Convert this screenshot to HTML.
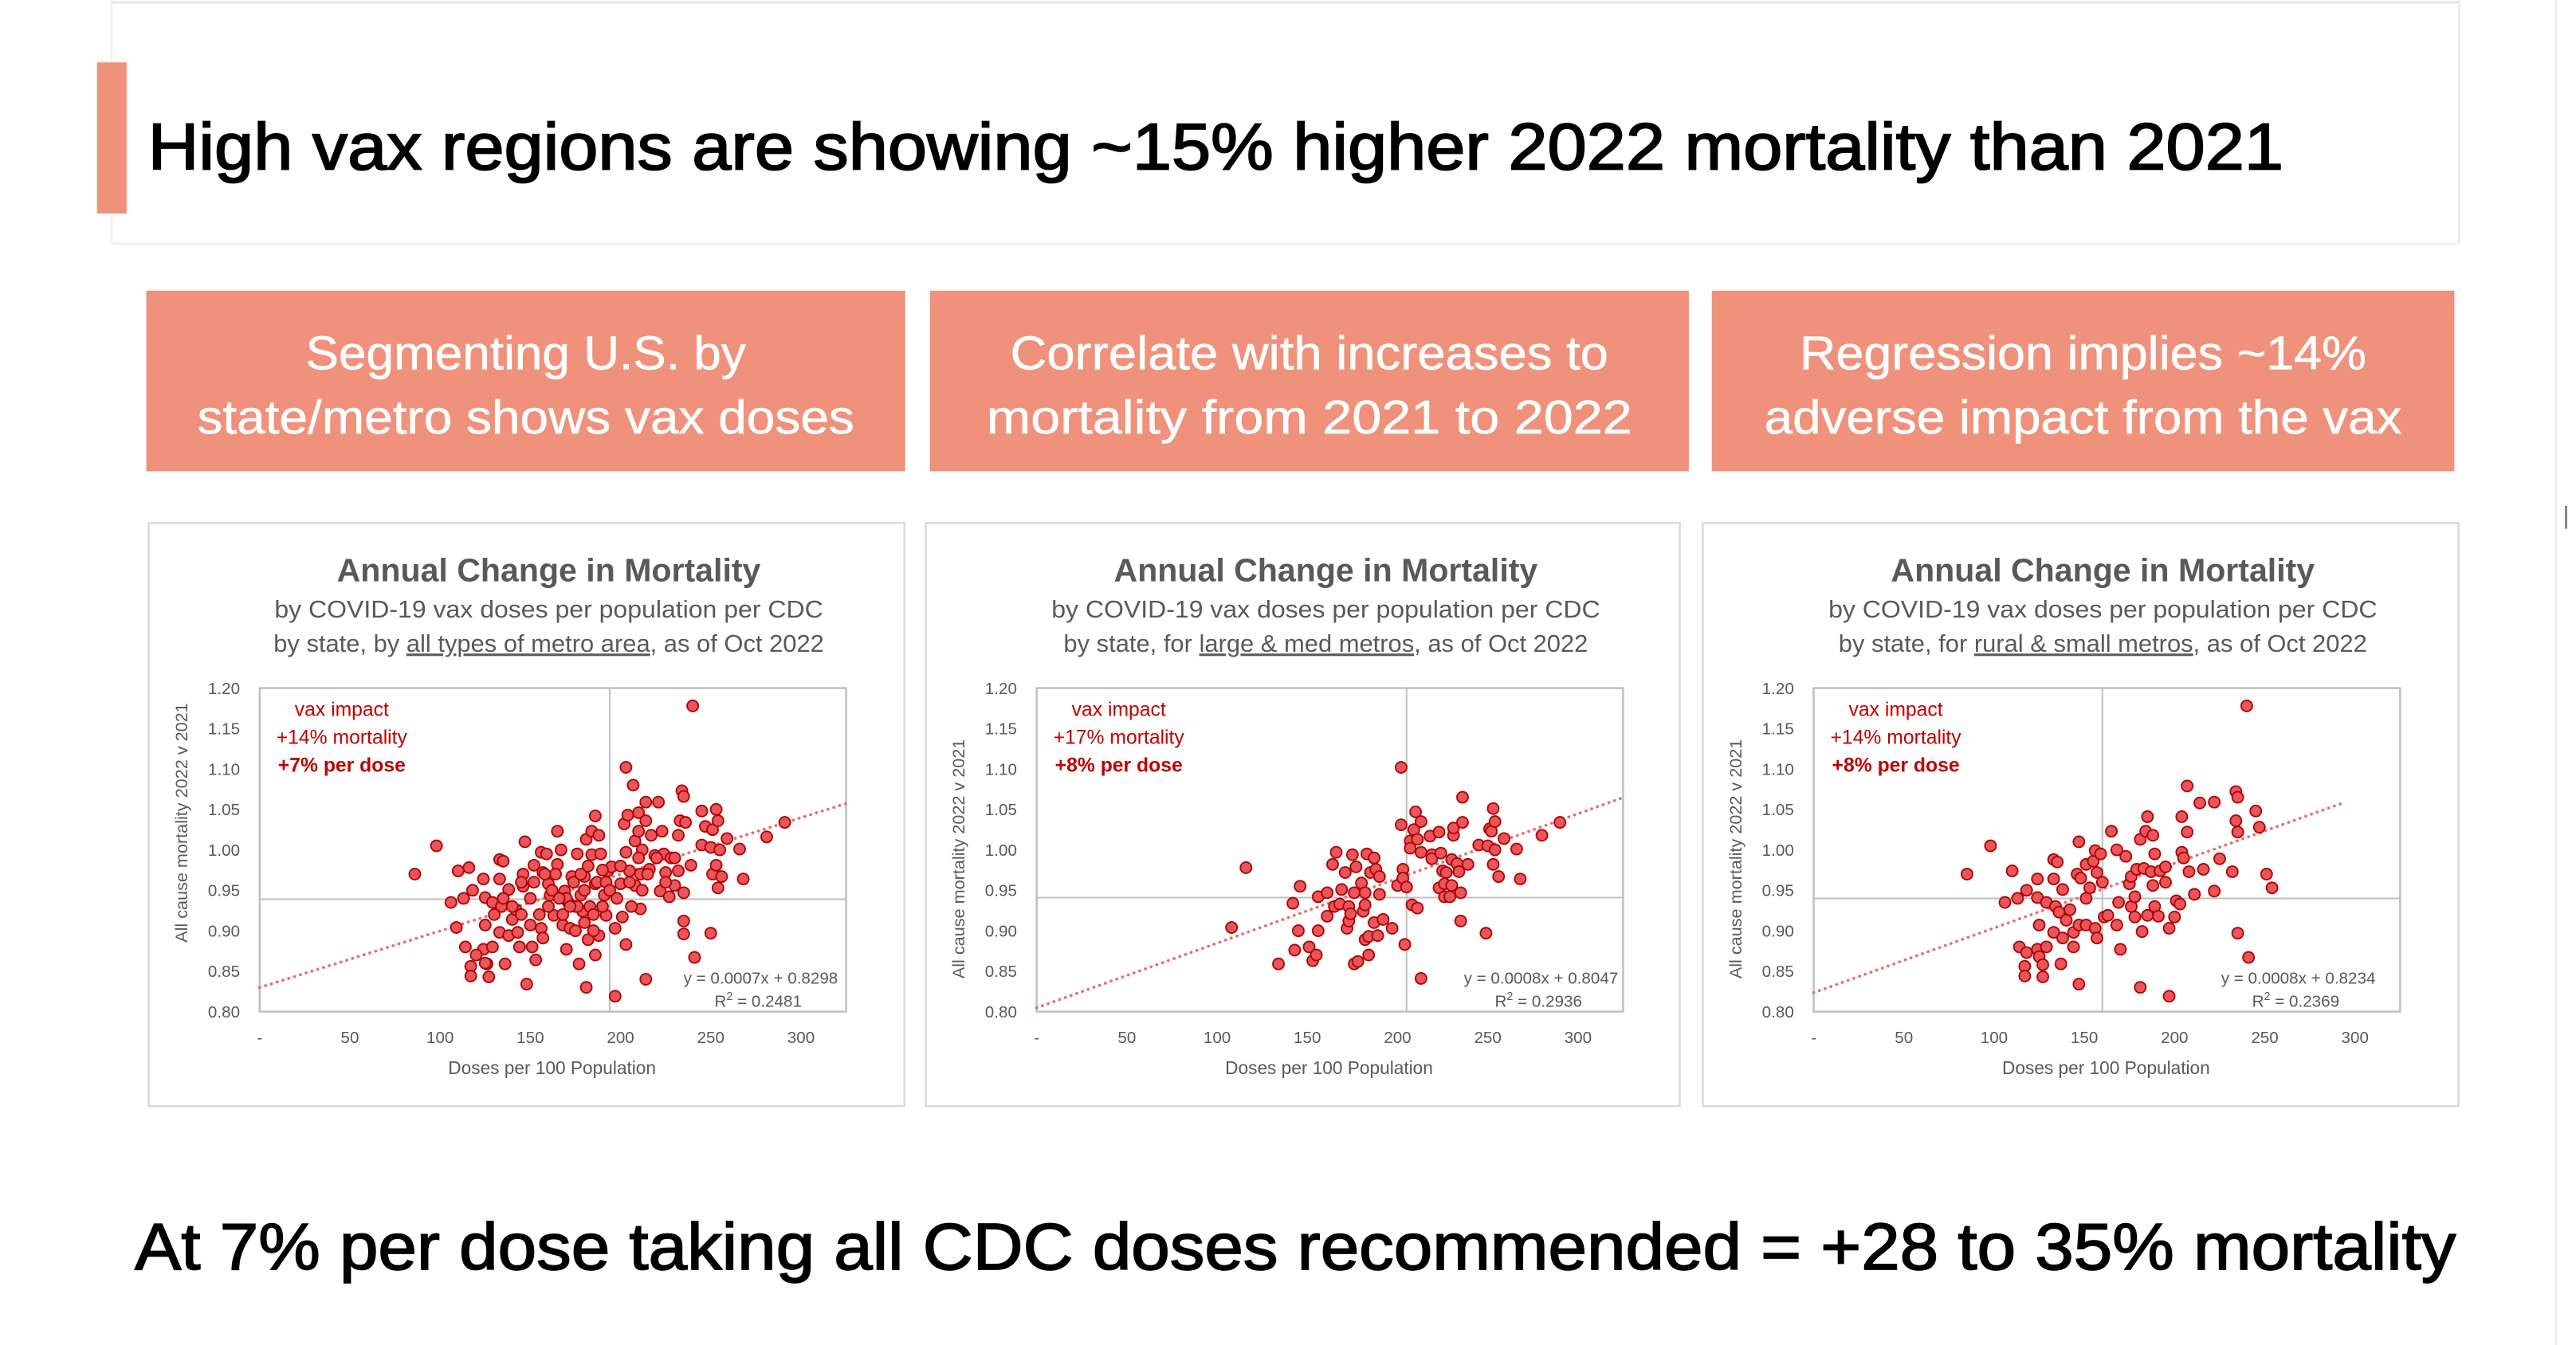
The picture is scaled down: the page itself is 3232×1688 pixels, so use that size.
<!DOCTYPE html>
<html><head><meta charset="utf-8">
<style>
html,body{margin:0;padding:0;background:#fff;}
svg{display:block;}
text{font-family:"Liberation Sans",sans-serif;}
</style></head>
<body>
<svg id="page" width="3232" height="1688" viewBox="0 0 1568 819" xmlns="http://www.w3.org/2000/svg">
  <rect x="0" y="0" width="1568" height="819" fill="#fff"/>
  <g>
    <line x1="68" y1="1.5" x2="1497" y2="1.5" stroke="#e3e3e3" stroke-width="1.5"/>
    <line x1="68" y1="0" x2="68" y2="148" stroke="#eeeeee" stroke-width="1"/>
    <line x1="1497" y1="0" x2="1497" y2="148" stroke="#ececec" stroke-width="1.5"/>
    <line x1="68" y1="148.5" x2="1497" y2="148.5" stroke="#f0f0f0" stroke-width="1.5"/>
    <rect x="59" y="38" width="18" height="92" fill="#ef917b"/>
    <text x="90" y="103" font-size="40" fill="#000" stroke="#000" stroke-width="0.9" textLength="1300" lengthAdjust="spacingAndGlyphs">High vax regions are showing ~15% higher 2022 mortality than 2021</text>
  </g>
  <line x1="1556" y1="0" x2="1556" y2="819" stroke="#e8e8e8" stroke-width="1"/>
  <line x1="1562" y1="308" x2="1562" y2="322" stroke="#888" stroke-width="1.5"/>

  <g>
    <rect x="89" y="177" width="462" height="110" fill="#ef917b"/>
    <text x="320" y="225" font-size="29" fill="#fff" stroke="#fff" stroke-width="0.3" text-anchor="middle" textLength="268" lengthAdjust="spacingAndGlyphs">Segmenting U.S. by</text>
    <text x="320" y="264" font-size="29" fill="#fff" stroke="#fff" stroke-width="0.3" text-anchor="middle" textLength="400" lengthAdjust="spacingAndGlyphs">state/metro shows vax doses</text>
  </g>
  <g>
    <rect x="566" y="177" width="462" height="110" fill="#ef917b"/>
    <text x="797" y="225" font-size="29" fill="#fff" stroke="#fff" stroke-width="0.3" text-anchor="middle" textLength="364" lengthAdjust="spacingAndGlyphs">Correlate with increases to</text>
    <text x="797" y="264" font-size="29" fill="#fff" stroke="#fff" stroke-width="0.3" text-anchor="middle" textLength="393" lengthAdjust="spacingAndGlyphs">mortality from 2021 to 2022</text>
  </g>
  <g>
    <rect x="1042" y="177" width="452" height="110" fill="#ef917b"/>
    <text x="1268" y="225" font-size="29" fill="#fff" stroke="#fff" stroke-width="0.3" text-anchor="middle" textLength="345" lengthAdjust="spacingAndGlyphs">Regression implies ~14%</text>
    <text x="1268" y="264" font-size="29" fill="#fff" stroke="#fff" stroke-width="0.3" text-anchor="middle" textLength="388" lengthAdjust="spacingAndGlyphs">adverse impact from the vax</text>
  </g>

  <g id="charts"></g>

  <text x="82" y="773" font-size="40" fill="#000" stroke="#000" stroke-width="0.8" textLength="1413" lengthAdjust="spacingAndGlyphs">At 7% per dose taking all CDC doses recommended = +28 to 35% mortality</text>
</svg>
<script>
// ---- Chart data ----
const xTicks = [0, 50, 100, 150, 200, 250, 300];
const xTickLabels = ["-", "50", "100", "150", "200", "250", "300"];
const yTicks = [0.80, 0.85, 0.90, 0.95, 1.00, 1.05, 1.10, 1.15, 1.20];
const yTickLabels = ["0.80", "0.85", "0.90", "0.95", "1.00", "1.05", "1.10", "1.15", "1.20"];

const chart1Doses = [86,98,106,109,110,113,116,114,117,117,118,124,125,125,124,127,126,129,133,135,133,129,134,133,136,138,138,140,142,143,144,146,147,148,146,150,151,152,153,156,157,156,157,159,160,161,163,165,165,167,168,169,170,171,172,173,175,176,177,178,179,180,181,181,182,183,184,184,186,186,186,188,188,189,191,192,193,195,197,197,200,201,202,203,203,203,204,205,207,208,208,210,210,211,211,212,214,214,214,216,217,219,221,222,223,224,225,227,228,230,232,232,233,234,235,235,235,235,236,239,240,241,245,245,247,250,250,251,251,253,253,254,254,255,256,259,266,268,281,291,170,174,176,178,180,182,185,187,190,192,194,160,162,164,166,168,172,150,152,155,158,145,140,200,205,210,215,220,225,230,198,206,212,145,135,130,120,125,175,180,185,190];
const chart1Mortality = [0.970,1.005,0.935,0.904,0.974,0.940,0.978,0.880,0.856,0.844,0.950,0.964,0.941,0.907,0.877,0.843,0.859,0.880,0.988,0.986,0.964,0.935,0.930,0.898,0.859,0.894,0.951,0.914,0.926,0.898,0.880,0.970,1.010,0.834,0.955,0.907,0.880,0.981,0.864,0.997,0.972,0.903,0.891,0.995,0.958,0.944,0.919,1.023,0.982,1.000,0.907,0.949,0.877,0.935,0.903,0.967,0.930,0.995,0.859,0.944,0.924,0.967,0.830,1.013,0.889,0.930,0.994,1.023,1.042,0.870,0.958,0.894,1.018,0.995,0.944,0.919,0.974,0.979,0.903,0.819,0.958,0.917,1.032,1.102,0.997,0.883,1.043,0.974,1.080,1.011,0.956,1.023,1.046,0.927,0.970,1.000,0.840,1.036,1.059,0.976,1.018,0.993,1.059,0.949,1.023,0.995,0.972,0.942,0.990,0.956,0.974,1.018,1.036,1.073,0.912,0.896,0.947,1.066,1.034,0.981,1.178,0.867,1.048,1.006,1.029,0.897,1.003,1.025,0.970,0.981,1.050,1.036,0.953,1.000,0.967,1.014,1.001,0.964,1.016,1.034,0.940,0.960,0.930,0.970,0.950,0.980,0.920,0.960,0.975,0.960,0.950,0.930,0.950,0.970,0.940,0.920,0.930,0.940,0.960,0.920,0.970,0.920,0.930,0.980,0.960,0.990,0.970,0.990,0.960,0.990,0.940,0.930,0.950,0.960,0.940,0.920,0.870,0.860,0.900,0.910,0.900,0.930];

const chart2Doses = [116,108,134,142,143,145,146,151,153,155,156,156,161,161,164,166,165,168,169,171,172,173,173,174,175,176,176,177,178,180,181,182,182,182,183,184,184,185,187,187,188,189,190,190,192,197,200,202,202,203,203,204,205,207,207,208,209,210,211,211,213,213,213,218,219,219,223,223,224,225,226,226,227,229,230,230,231,231,233,234,235,235,236,236,239,245,249,250,251,252,253,253,254,254,256,259,266,268,280,290];
const chart2Mortality = [0.978,0.904,0.859,0.934,0.876,0.900,0.955,0.880,0.863,0.870,0.942,0.900,0.947,0.918,0.982,0.997,0.930,0.933,0.951,0.972,0.903,0.930,0.912,0.921,0.994,0.947,0.859,0.979,0.862,0.959,0.924,0.889,0.947,0.932,0.995,0.893,0.870,0.972,0.910,0.990,0.976,0.894,0.967,0.945,0.914,0.903,0.956,1.102,1.031,0.976,0.965,0.883,0.954,1.011,1.002,0.932,1.025,1.047,1.013,0.928,0.997,1.035,0.841,1.017,0.994,0.989,1.022,0.953,0.996,0.974,0.958,0.942,0.972,0.942,0.988,0.956,1.018,1.027,0.983,0.973,0.912,0.947,1.065,1.034,0.982,1.006,0.897,1.005,1.026,1.023,1.051,0.982,1.000,1.035,0.967,1.014,1.001,0.964,1.018,1.034];

const chart3Doses = [85,98,106,110,113,114,117,117,118,118,124,124,125,124,125,127,127,129,129,133,133,133,134,135,136,137,138,138,140,142,144,144,146,147,147,147,148,151,151,151,153,155,156,156,157,157,159,160,161,163,165,168,168,169,170,173,175,176,176,178,178,179,181,181,182,183,184,185,185,187,188,188,189,189,191,192,195,195,197,197,200,201,203,204,204,205,207,207,208,211,214,216,222,222,225,232,234,235,234,235,235,240,241,245,247,251,254];
const chart3Mortality = [0.970,1.005,0.935,0.974,0.940,0.880,0.856,0.844,0.950,0.873,0.964,0.941,0.907,0.877,0.868,0.843,0.858,0.880,0.935,0.988,0.964,0.898,0.930,0.985,0.923,0.859,0.891,0.951,0.913,0.926,0.898,0.880,0.970,1.010,0.907,0.834,0.965,0.907,0.940,0.982,0.953,0.986,0.999,0.903,0.891,0.972,0.995,0.960,0.917,0.919,1.023,1.000,0.907,0.935,0.877,0.992,0.958,0.930,0.967,0.917,0.942,0.976,0.830,1.013,0.899,0.977,1.023,0.919,1.041,0.973,1.018,0.956,0.930,0.995,0.918,0.974,0.979,0.960,0.903,0.819,0.917,0.937,0.933,1.041,0.997,0.990,1.022,1.079,0.973,0.945,1.058,0.976,1.059,0.949,0.989,0.973,1.072,1.065,1.036,1.022,0.897,1.178,0.867,1.048,1.028,0.970,0.953];

const chartSlopes = [0.0007, 0.0008, 0.0008];
const chartIntercepts = [0.8298, 0.8047, 0.8234];
const trendEnds = [325, 325, 293];
const quadrantX = [194, 205, 160];
const quadrantY = [0.939, 0.941, 0.940];
const equationLabels = ["y = 0.0007x + 0.8298", "y = 0.0008x + 0.8047", "y = 0.0008x + 0.8234"];
const r2Labels = ["0.2481", "0.2936", "0.2369"];
const impactLabels = ["+14% mortality", "+17% mortality", "+14% mortality"];
const perDoseLabels = ["+7% per dose", "+8% per dose", "+8% per dose"];
const segmentLabels = ["all types of metro area", "large & med metros", "rural & small metros"];
const segmentPrefixes = ["by state, by ", "by state, for ", "by state, for "];

// ---- Drawing ----
const NS = "http://www.w3.org/2000/svg";
const root = document.getElementById("charts");
function mk(tag, attrs, parent) {
  const e = document.createElementNS(NS, tag);
  for (const k in attrs) e.setAttribute(k, attrs[k]);
  parent.appendChild(e);
  return e;
}
const boxLefts = [90, 563, 1036];
const allDoses = [chart1Doses, chart2Doses, chart3Doses];
const allMort = [chart1Mortality, chart2Mortality, chart3Mortality];

boxLefts.forEach((bx, ci) => {
  const g = mk("g", {}, root);
  
  
  const bw = ci === 1 ? 459 : 460;
  mk("rect", {x: bx + 0.5, y: 318.5, width: bw, height: 355, fill: "#fff", stroke: "#d9d9d9", "stroke-width": 1.2}, g);

  const t = mk("text", {x: bx + 244, y: 354, "font-size": 20, "font-weight": "bold", fill: "#595959", "text-anchor": "middle", textLength: 258, lengthAdjust: "spacingAndGlyphs"}, g);
  t.textContent = "Annual Change in Mortality";
  
  
  const s1 = mk("text", {x: bx + 244, y: 376, "font-size": 15, fill: "#595959", "text-anchor": "middle", textLength: 334, lengthAdjust: "spacingAndGlyphs"}, g);
  s1.textContent = "by COVID-19 vax doses per population per CDC";
  
  
  const s2 = mk("text", {x: bx + 244, y: 397, "font-size": 15, fill: "#595959", "text-anchor": "middle"}, g);
  
  
  const p1 = mk("tspan", {}, s2); p1.textContent = segmentPrefixes[ci];
  const p2 = mk("tspan", {"text-decoration": "underline"}, s2); p2.textContent = segmentLabels[ci];
  const p3 = mk("tspan", {}, s2); p3.textContent = ", as of Oct 2022";

  const L = bx + 68, R = bx + 425, T = 419, B = 616;
  const xs = v => L + v / 325 * (R - L);
  const ys = v => B - (v - 0.80) / 0.40 * (B - T);

  const frame = mk("rect", {x: L, y: T, width: R - L, height: B - T, fill: "none", stroke: "#bfbfbf", "stroke-width": 1.2}, g);
  
  
  const vl = mk("line", {x1: xs(quadrantX[ci]), x2: xs(quadrantX[ci]), y1: T, y2: B, stroke: "#bfbfbf", "stroke-width": 1}, g);
  
  
  const hl = mk("line", {x1: L, x2: R, y1: ys(quadrantY[ci]), y2: ys(quadrantY[ci]), stroke: "#bfbfbf", "stroke-width": 1}, g);
  
  

  yTicks.forEach((v, i) => {
    const tl = mk("text", {x: L - 12, y: ys(v) + 3.5, "font-size": 10, fill: "#595959", "text-anchor": "end"}, g);
    tl.textContent = yTickLabels[i];
    
    
  });
  xTicks.forEach((v, i) => {
    const tl = mk("text", {x: xs(v), y: 635, "font-size": 10, fill: "#595959", "text-anchor": "middle"}, g);
    tl.textContent = xTickLabels[i];
    
    
  });
  const xt = mk("text", {x: bx + 246, y: 654, "font-size": 11, fill: "#595959", "text-anchor": "middle"}, g);
  xt.textContent = "Doses per 100 Population";
  
  
  const yt = mk("text", {x: 0, y: 0, "font-size": 10.5, fill: "#595959", "text-anchor": "middle", transform: `translate(${bx + 24},${ci === 0 ? 501 : 523}) rotate(-90)`}, g);
  yt.textContent = "All cause mortality 2022 v 2021";
  
  

  const tr = mk("line", {x1: xs(0), y1: ys(chartIntercepts[ci]), x2: xs(trendEnds[ci]), y2: ys(chartIntercepts[ci] + chartSlopes[ci] * trendEnds[ci]), stroke: "#f06a6a", "stroke-width": 1.8, "stroke-dasharray": "0.1 3.6", "stroke-linecap": "round"}, g);
  
  

  const d = allDoses[ci], m = allMort[ci];
  for (let i = 0; i < d.length; i++) {
    const c = mk("circle", {cx: xs(d[i]), cy: ys(m[i]), r: 3.4, fill: "#e8555a", stroke: "#b00000", "stroke-width": 0.9}, g);
    
    
  }

  const a1 = mk("text", {x: bx + 118, y: 436, "font-size": 12, fill: "#c00000", "text-anchor": "middle"}, g);
  a1.textContent = "vax impact";
  
  
  const a2 = mk("text", {x: bx + 118, y: 453, "font-size": 12, fill: "#c00000", "text-anchor": "middle"}, g);
  a2.textContent = impactLabels[ci];
  
  
  const a3 = mk("text", {x: bx + 118, y: 470, "font-size": 12, "font-weight": "bold", fill: "#c00000", "text-anchor": "middle"}, g);
  a3.textContent = perDoseLabels[ci];
  
  

  const eqx = ci === 2 ? bx + 410 : (ci === 1 ? bx + 422 : bx + 420);
  const eq = mk("text", {x: eqx, y: 599, "font-size": 10, fill: "#595959", "text-anchor": "end"}, g);
  eq.textContent = equationLabels[ci];
  
  
  const r2 = mk("text", {x: eqx - 22, y: 613, "font-size": 10, fill: "#595959", "text-anchor": "end"}, g);
  
  
  const rA = mk("tspan", {}, r2); rA.textContent = "R";
  const rB = mk("tspan", {"font-size": 7, dy: -4}, r2); rB.textContent = "2";
  const rC = mk("tspan", {dy: 4}, r2); rC.textContent = " = " + r2Labels[ci];
});
</script>
</body></html>
